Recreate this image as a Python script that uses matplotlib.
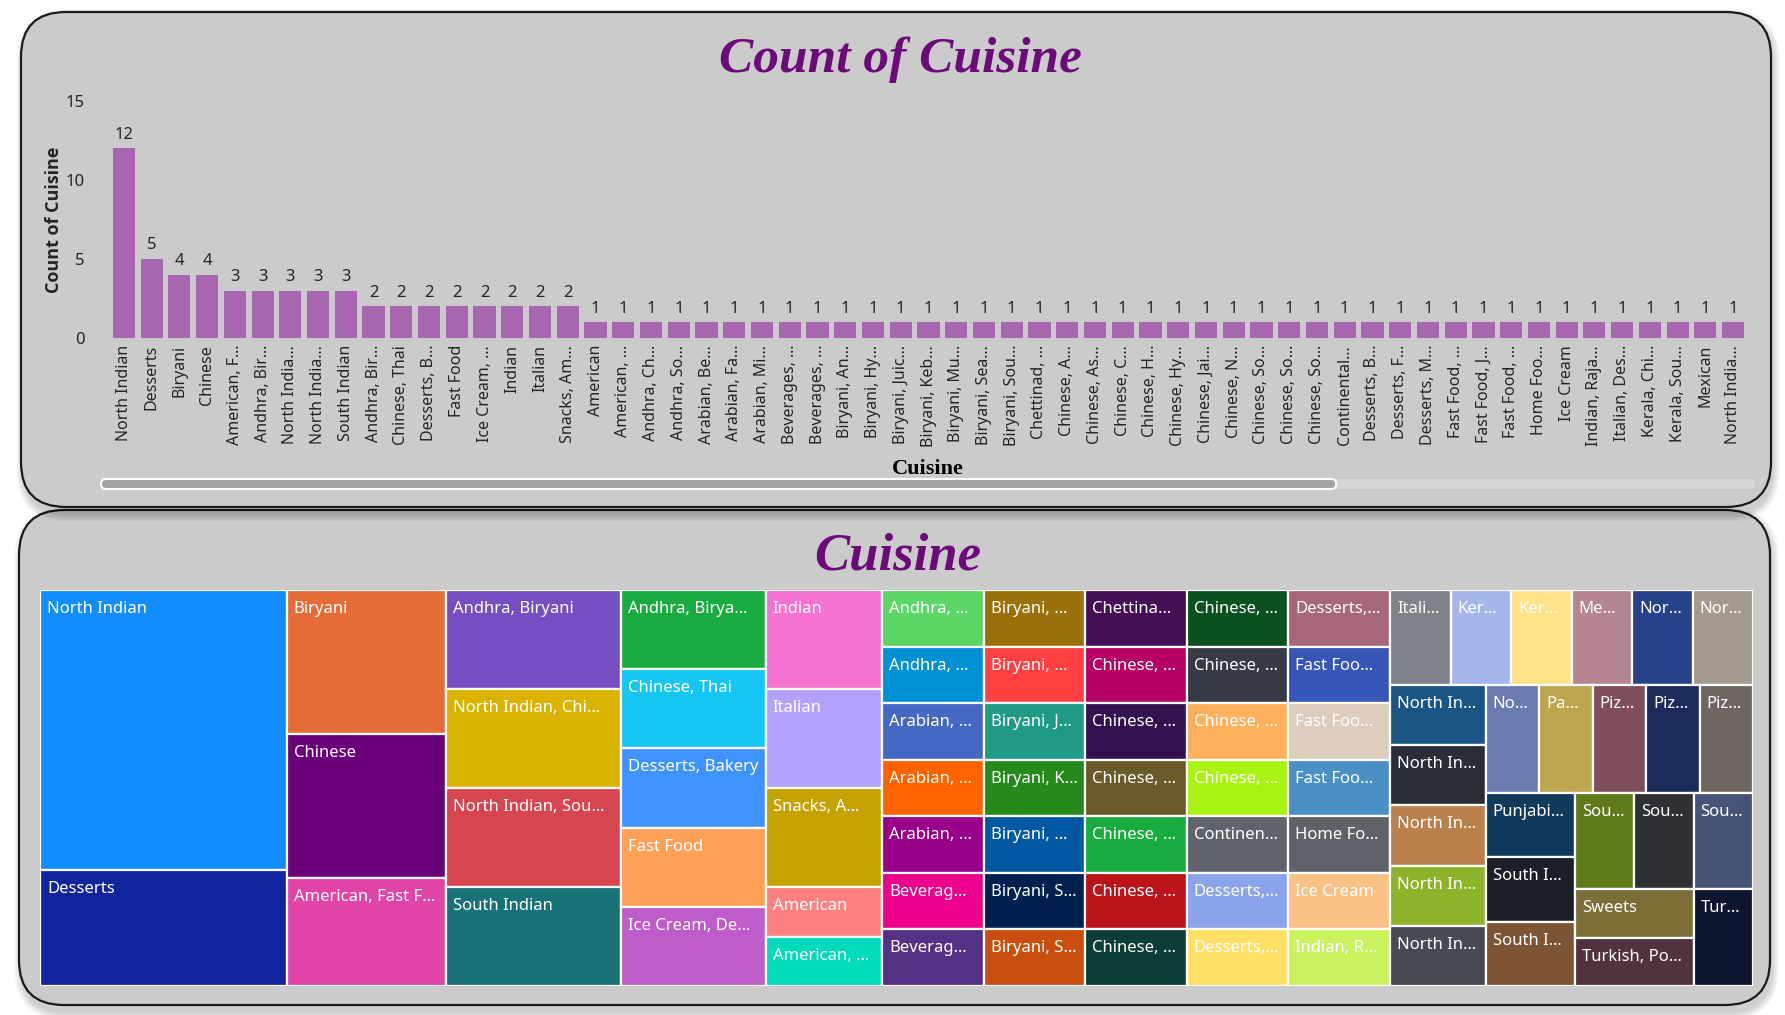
import matplotlib
matplotlib.use('Agg')
import matplotlib.pyplot as plt
from matplotlib.patches import FancyBboxPatch, Rectangle

# ── Data ────────────────────────────────────────────────────────────────────
# categories as shown in the treemap (sorted by count, then name)
tree_labels = [
    "North Indian", "Desserts", "Biryani", "Chinese", "American, Fast F…",
    "Andhra, Biryani", "North Indian, Chi…", "North Indian, Sou…", "South Indian",
    "Andhra, Birya…", "Chinese, Thai", "Desserts, Bakery", "Fast Food",
    "Ice Cream, De…", "Indian", "Italian", "Snacks, A…", "American", "American, …",
    "Andhra, …", "Andhra, …", "Arabian, …", "Arabian, …", "Arabian, …",
    "Beverag…", "Beverag…", "Biryani, …", "Biryani, …", "Biryani, J…",
    "Biryani, K…", "Biryani, …", "Biryani, S…", "Biryani, S…", "Chettina…",
    "Chinese, …", "Chinese, …", "Chinese, …", "Chinese, …", "Chinese, …",
    "Chinese, …", "Chinese, …", "Chinese, …", "Chinese, …", "Chinese, …",
    "Continen…", "Desserts,…", "Desserts,…", "Desserts,…", "Fast Foo…",
    "Fast Foo…", "Fast Foo…", "Home Fo…", "Ice Cream", "Indian, R…",
    "Itali…", "Ker…", "Ker…", "Me…", "Nor…", "Nor…",
    "North In…", "North In…", "North In…", "North In…", "North In…",
    "No…", "Pa…", "Piz…", "Piz…", "Piz…", "Punjabi…", "South I…", "South I…",
    "Sou…", "Sou…", "Sou…", "Sweets", "Turkish, Po…", "Tur…",
]

counts = [
    12, 5, 4, 4, 3, 3, 3, 3, 3, 2, 2, 2, 2, 2, 2, 2, 2,
    1, 1, 1, 1, 1, 1, 1, 1, 1, 1, 1, 1, 1, 1, 1, 1, 1, 1, 1, 1,
    1, 1, 1, 1, 1, 1, 1, 1, 1, 1, 1, 1, 1, 1, 1, 1, 1, 1, 1, 1,
    1, 1, 1, 1, 1, 1, 1, 1, 1, 1, 1, 1, 1, 1, 1, 1, 1, 1, 1, 1,
    1, 1,
]

# x-axis labels of the visible (scrolled) part of the bar chart
bar_labels = [
    "North Indian", "Desserts", "Biryani", "Chinese", "American, F…",
    "Andhra, Bir…", "North India…", "North India…", "South Indian",
    "Andhra, Bir…", "Chinese, Thai", "Desserts, B…", "Fast Food",
    "Ice Cream, …", "Indian", "Italian", "Snacks, Am…", "American",
    "American, …", "Andhra, Ch…", "Andhra, So…", "Arabian, Be…",
    "Arabian, Fa…", "Arabian, Mi…", "Beverages, …", "Beverages, …",
    "Biryani, An…", "Biryani, Hy…", "Biryani, Juic…", "Biryani, Keb…",
    "Biryani, Mu…", "Biryani, Sea…", "Biryani, Sou…", "Chettinad, …",
    "Chinese, A…", "Chinese, As…", "Chinese, C…", "Chinese, H…",
    "Chinese, Hy…", "Chinese, Jai…", "Chinese, N…", "Chinese, So…",
    "Chinese, So…", "Chinese, So…", "Continental…", "Desserts, B…",
    "Desserts, F…", "Desserts, M…", "Fast Food, …", "Fast Food, J…",
    "Fast Food, …", "Home Foo…", "Ice Cream", "Indian, Raja…",
    "Italian, Des…", "Kerala, Chi…", "Kerala, Sou…", "Mexican", "North India…",
]
bar_counts = counts[:len(bar_labels)]

tree_colors = [
    "#118DFF", "#12239E", "#E66C37", "#6B007B", "#E044A7", "#744EC2", "#D9B300",
    "#D64550", "#197278", "#1AAB40", "#15C6F4", "#4092FF", "#FFA058", "#BE5DC9",
    "#F472D0", "#B5A1FF", "#C4A200", "#FF8080", "#00DBBC", "#5BD667", "#0091D5",
    "#4668C5", "#FF6300", "#99008A", "#EC008C", "#533285", "#99700A", "#FF4141",
    "#1F9A85", "#25891C", "#0057A2", "#002050", "#C94F0F", "#450F54", "#B60064",
    "#34124F", "#6A5A29", "#1AAB40", "#BA141A", "#0C3D37", "#0B511F", "#363A44",
    "#FFB05C", "#A9F313", "#5F636B", "#8AA3EB", "#FFE066", "#A66878", "#3656B8",
    "#DDCDBE", "#4A90C4", "#5E6269", "#FAC185", "#C9F25E", "#7F8389", "#A4B6EA",
    "#FFE38A", "#B58592", "#264289", "#A69A8E", "#1A5685", "#292D36", "#BA814C",
    "#8DB32A", "#474A52", "#6A7BB0", "#BEA550", "#7E4E5B", "#1C2A5C", "#6F6661",
    "#0F3A5C", "#1B1F28", "#7D5534", "#5E7A1B", "#2E3036", "#485477", "#7B6E37",
    "#51323D", "#0E1530",
]

# ── Style ───────────────────────────────────────────────────────────────────
W, H = 1785, 1015
SANS = ['Noto Sans', 'DejaVu Sans']
SANS_BOLD = ['Open Sans', 'DejaVu Sans']
SERIF = ['Liberation Serif', 'DejaVu Serif']
PANEL = '#CBCBCB'
BAR = '#A866B0'
TITLE = '#6B0A78'
TXT = '#252423'
PHI = (1 + 5 ** 0.5) / 2


def px_axes(left, top, right, bottom):
    """Axes placed by pixel box (y measured from top)."""
    return fig.add_axes([left / W, 1 - bottom / H, (right - left) / W, (bottom - top) / H])


def panel(ax, x0, y0, x1, y1):
    # soft shadow
    for k in range(8):
        ax.add_patch(FancyBboxPatch((x0 - k + 2, y0 + 4 - k), x1 - x0 + 2 * k, y1 - y0 + 2 * k + 4,
                                    boxstyle='round,pad=0,rounding_size=%d' % (45 + k),
                                    fc='black', ec='none', alpha=0.025))
    ax.add_patch(FancyBboxPatch((x0, y0), x1 - x0, y1 - y0,
                                boxstyle='round,pad=0,rounding_size=45',
                                fc=PANEL, ec='#1A1A1A', lw=1.6))


def squarify(values, x0, y0, x1, y1, ratio=PHI):
    """Squarified treemap (golden-ratio target, d3 style); y grows downwards."""
    rects = []
    value = float(sum(values))
    i0 = 0
    n = len(values)
    while i0 < n:
        dx, dy = x1 - x0, y1 - y0
        i1 = i0 + 1
        s = mn = mx = values[i0]
        alpha = max(dy / dx, dx / dy) / (value * ratio)
        beta = s * s * alpha
        best = max(mx / beta, beta / mn)
        while i1 < n:
            v = values[i1]
            ns = s + v
            beta = ns * ns * alpha
            r = max(max(mx, v) / beta, beta / min(mn, v))
            if r > best:
                break
            s, mn, mx, best = ns, min(mn, v), max(mx, v), r
            i1 += 1
        row = values[i0:i1]
        if dx < dy:   # horizontal row on top
            h = dy * s / value
            xx = x0
            for v in row:
                w = dx * v / s
                rects.append((xx, y0, w, h))
                xx += w
            y0 += h
        else:         # vertical column on the left
            w = dx * s / value
            yy = y0
            for v in row:
                h = dy * v / s
                rects.append((x0, yy, w, h))
                yy += h
            x0 += w
        value -= s
        i0 = i1
    return rects


fig = plt.figure(figsize=(W / 100, H / 100), dpi=100)
fig.patch.set_facecolor('white')

bg = fig.add_axes([0, 0, 1, 1])
bg.set_xlim(0, W)
bg.set_ylim(H, 0)
bg.axis('off')

# ── Panels ──────────────────────────────────────────────────────────────────
panel(bg, 19, 510, 1770, 1005)
panel(bg, 21, 12, 1771, 507)

# ── Bar chart ───────────────────────────────────────────────────────────────
bg.text(900, 60, 'Count of Cuisine', family=SERIF, fontsize=37, fontweight='bold',
        style='italic', color=TITLE, ha='center', va='center')

ax = px_axes(110, 101, 1747, 338)
ax.patch.set_visible(False)
bars = ax.bar(range(len(bar_counts)), bar_counts, width=0.8, color=BAR)
ax.set_xlim(-0.5, len(bar_counts) - 0.5)
ax.set_ylim(0, 15)
ax.set_yticks([0, 5, 10, 15])
ax.set_xticks(range(len(bar_labels)))
ax.set_xticklabels(bar_labels, rotation=90, ha='center', va='top', family=SANS,
                   fontsize=11.5, color=TXT)
for lab in ax.get_yticklabels():
    lab.set_family(SANS)
ax.tick_params(axis='y', length=0, pad=18, labelsize=12, labelcolor=TXT)
ax.tick_params(axis='x', length=0, pad=5)
for sp in ax.spines.values():
    sp.set_visible(False)
ax.bar_label(bars, padding=4, fontsize=12, color=TXT, family=SANS)

bg.text(54, 220, 'Count of Cuisine', rotation=90, family=SANS_BOLD, fontsize=13,
        fontweight='bold', color=TXT, ha='center', va='center')
bg.text(928, 469, 'Cuisine', family=SERIF, fontsize=16, fontweight='bold',
        color='black', ha='center', va='center')

# scrollbar (59 of 79 categories visible)
track_x0, track_x1 = 101, 1755
bg.add_patch(FancyBboxPatch((track_x0, 479), track_x1 - track_x0, 10,
                            boxstyle='round,pad=0,rounding_size=5', fc='#D6D6D6', ec='none'))
thumb_w = (track_x1 - track_x0) * len(bar_counts) / len(counts)
bg.add_patch(FancyBboxPatch((track_x0, 479), thumb_w, 10,
                            boxstyle='round,pad=0,rounding_size=5', fc='#A3A3A3',
                            ec='white', lw=1.5))

# ── Treemap ─────────────────────────────────────────────────────────────────
bg.text(898, 557, 'Cuisine', family=SERIF, fontsize=38, fontweight='bold',
        style='italic', color=TITLE, ha='center', va='center')

TM_W, TM_H = 1713, 396
tm = px_axes(40, 590, 40 + TM_W, 590 + TM_H)
tm.set_xlim(0, TM_W)
tm.set_ylim(TM_H, 0)
tm.axis('off')
for (x, y, w, h), lab, col in zip(squarify(counts, 0, 0, TM_W, TM_H), tree_labels, tree_colors):
    tm.add_patch(Rectangle((x, y), w, h, fc=col, ec='white', lw=1.6))
    tm.text(x + 7, y + 11, lab, family=SANS, fontsize=12, color='white',
            ha='left', va='top', clip_on=True)

plt.savefig('out.png', dpi=100)
plt.close()
